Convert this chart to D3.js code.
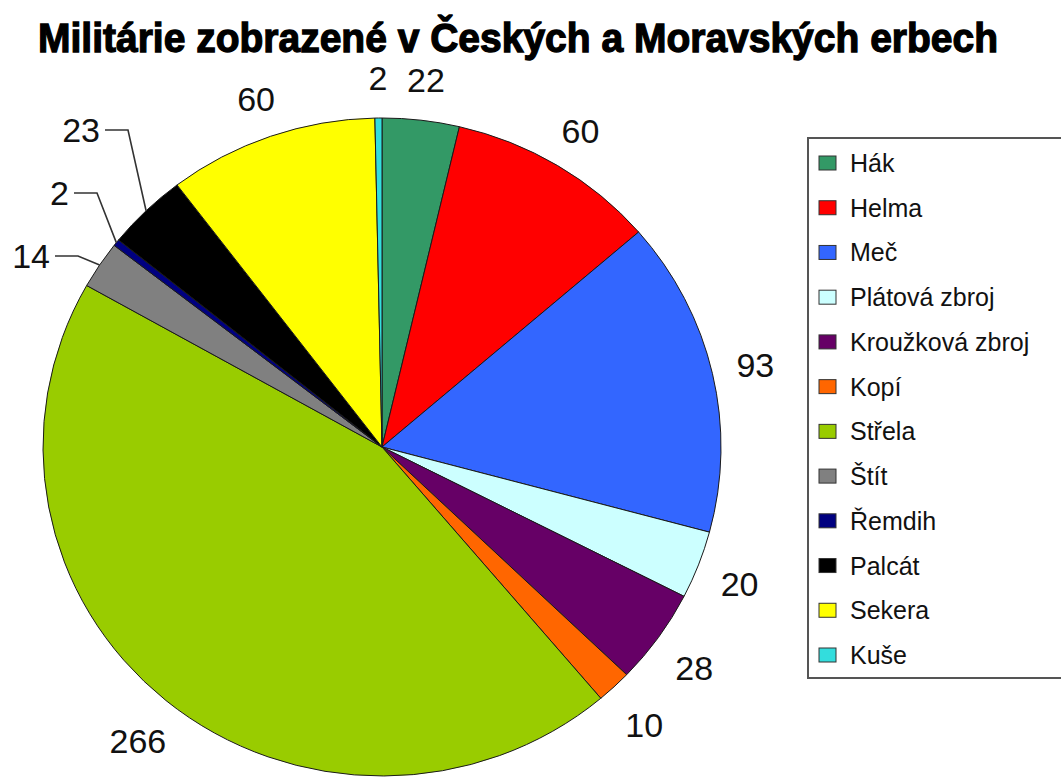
<!DOCTYPE html>
<html>
<head>
<meta charset="utf-8">
<script src="https://cdn.jsdelivr.net/npm/d3@7"></script>
<style>
  html, body { margin: 0; padding: 0; background: #fff; }
  svg { display: block; }
</style>
</head>
<body>
<svg id="chart" width="1061" height="778"></svg>
<script>
// Military charges in Czech and Moravian coats of arms
const categories = ["Hák", "Helma", "Meč", "Plátová zbroj", "Kroužková zbroj", "Kopí",
                    "Střela", "Štít", "Řemdih", "Palcát", "Sekera", "Kuše"];
const counts = [22, 60, 93, 20, 28, 10, 266, 14, 2, 23, 60, 2];
const colors = ["#339966", "#ff0000", "#3366ff", "#ccffff", "#660066", "#ff6600",
                "#99cc00", "#808080", "#000080", "#000000", "#ffff00", "#33dddd"];
const titleText = "Militárie zobrazené v Českých a Moravských erbech";

// Layout
const cx = 382, cy = 447;
const ry = 329, rx = 339;          // pie is drawn slightly wider than tall
const sx = rx / ry;
const labelGapX = 44, labelGapTop = 40, labelGapBottom = 52;
// small slices get a bent leader line; elbow offsets are relative to the pie centre
const calloutElbows = { "Štít": [-304, -191], "Řemdih": [-285, -254], "Palcát": [-254, -317] };

const svg = d3.select("#chart");

const data = categories.map((c, i) => ({ name: c, value: counts[i], color: colors[i] }));
const pie = d3.pie().sort(null).value(d => d.value);
const arcs = pie(data);
const arc = d3.arc().innerRadius(0).outerRadius(ry);

// Title
svg.append("text")
  .attr("x", 38).attr("y", 52)
  .attr("textLength", 960).attr("lengthAdjust", "spacingAndGlyphs")
  .style("font-family", "'Liberation Sans', Arial, sans-serif")
  .style("font-weight", "bold").style("font-size", "41px")
  .style("stroke", "#000").style("stroke-width", "1.3px")
  .attr("fill", "#000")
  .text(titleText);

// Slices
const g = svg.append("g").attr("transform", `translate(${cx},${cy}) scale(${sx},1)`);
g.selectAll("path.slice").data(arcs).join("path")
  .attr("class", "slice")
  .attr("d", arc)
  .attr("fill", d => d.data.color)
  .attr("stroke", "#1a1a1a")
  .attr("stroke-width", 1)
  .attr("vector-effect", "non-scaling-stroke");

const mid = d => (d.startAngle + d.endAngle) / 2;
const labelFont = "'Liberation Sans', Arial, sans-serif";

// Value labels
arcs.forEach(d => {
  const a = mid(d);
  const elbow = calloutElbows[d.data.name];
  if (elbow) {
    const ex = cx + rx * Math.sin(a), ey = cy - ry * Math.cos(a);
    const bx = cx + elbow[0], by = cy + elbow[1];
    svg.append("path")
      .attr("d", d3.line()([[ex, ey], [bx, by], [bx - 23, by]]))
      .attr("fill", "none").attr("stroke", "#333").attr("stroke-width", 1.6);
    svg.append("text")
      .attr("x", bx - 28).attr("y", by)
      .attr("text-anchor", "end").attr("dominant-baseline", "central")
      .style("font-family", labelFont).style("font-size", "34px")
      .attr("fill", "#111")
      .text(d.data.value);
  } else {
    const gy = Math.cos(a) > 0 ? labelGapTop : labelGapBottom;
    svg.append("text")
      .attr("x", cx + (rx + labelGapX) * Math.sin(a))
      .attr("y", cy - (ry + gy) * Math.cos(a))
      .attr("text-anchor", "middle").attr("dominant-baseline", "central")
      .style("font-family", labelFont).style("font-size", "34px")
      .attr("fill", "#111")
      .text(d.data.value);
  }
});

// Legend
const lg = svg.append("g");
lg.append("rect")
  .attr("x", 808).attr("y", 138).attr("width", 300).attr("height", 540)
  .attr("fill", "#fff").attr("stroke", "#555").attr("stroke-width", 2);

const rowY = d3.scalePoint().domain(categories).range([163, 655]);
const items = lg.selectAll("g.item").data(data).join("g")
  .attr("class", "item")
  .attr("transform", d => `translate(0,${rowY(d.name)})`);
items.append("rect")
  .attr("x", 819).attr("y", -7).attr("width", 17).attr("height", 14)
  .attr("fill", d => d.color).attr("stroke", "#333").attr("stroke-width", 1);
items.append("text")
  .attr("x", 850).attr("y", 0).attr("dominant-baseline", "central")
  .style("font-family", labelFont).style("font-size", "25px")
  .attr("fill", "#111")
  .text(d => d.name);
</script>
</body>
</html>
